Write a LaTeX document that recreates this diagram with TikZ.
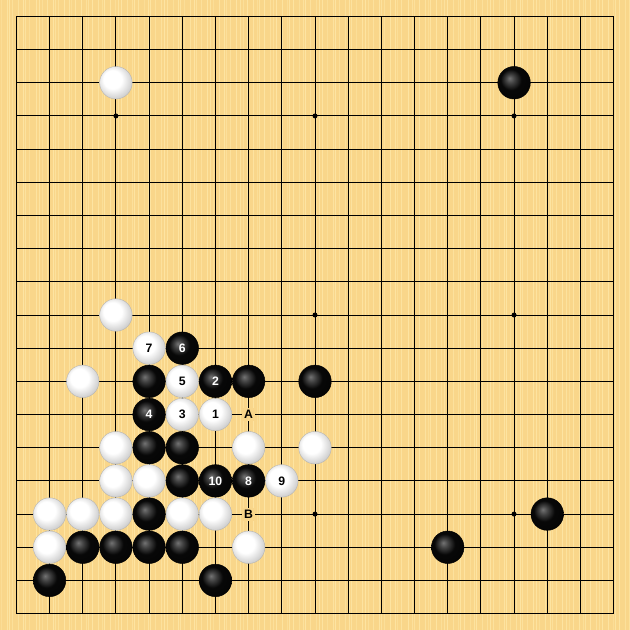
\documentclass[tikz,border=0pt]{standalone}
\usepackage{fontspec}
\setmainfont{Liberation Sans}
\definecolor{boardwood}{RGB}{249,214,138}
\definecolor{woodstripe}{RGB}{254,232,168}
\pgfdeclareradialshading{blackball}{\pgfpoint{-7bp}{7bp}}{color(0bp)=(black!55); color(7bp)=(black!75); color(16bp)=(black!97); color(50bp)=(black)}
\pgfdeclareradialshading{whiteball}{\pgfpoint{-7bp}{7bp}}{color(0bp)=(white); color(14bp)=(white); color(30bp)=(black!22); color(38bp)=(black!35); color(50bp)=(black!35)}

\begin{document}
\begin{tikzpicture}[x=1cm,y=-1cm]
\tikzstyle{every node}+=[inner sep=0pt]
\tikzstyle{stonebase}=[circle, minimum size=0.98cm, font=\bfseries\fontsize{10.5}{12}\selectfont]
\tikzstyle{blackstone}=[stonebase, shading=blackball, draw=black, line width=0.4pt, text=white]
\tikzstyle{whitestone}=[stonebase, shading=whiteball, draw=black!30, line width=0.3pt, text=black]
\tikzstyle{pointlabel}=[fill=boardwood, inner sep=2pt, font=\bfseries\fontsize{10.5}{12}\selectfont]
% board
\fill [boardwood] (-0.494,-0.494) rectangle (18.494,18.494);
\useasboundingbox (-0.494,-0.494) rectangle (18.494,18.494);
\foreach \k in {0,...,150} {
  \pgfmathsetmacro{\sx}{-0.45+0.126*\k+0.04*sin(97*\k)}
  \pgfmathtruncatemacro{\so}{40+40*abs(sin(53*\k))}
  \draw [woodstripe!\so!boardwood, line width=0.7pt] (\sx,-0.494) -- (\sx,18.494);
}
\foreach \i in {0,...,18} {
  \draw [black, line width=0.85pt] (\i,0) -- (\i,18);
  \draw [black, line width=0.85pt] (0,\i) -- (18,\i);
}
\foreach \c in {3,9,15}
  \foreach \r in {3,9,15}
    \fill [black] (\c,\r) circle (0.075);
% stones
\foreach \c/\r/\n in {15/2/, 5/10/6, 4/11/, 6/11/2, 7/11/, 9/11/, 4/12/4, 4/13/, 5/13/,
  5/14/, 6/14/10, 7/14/8, 4/15/, 16/15/, 2/16/, 3/16/, 4/16/, 5/16/, 13/16/, 1/17/, 6/17/}
  \node [blackstone] (b\c-\r) at (\c,\r) {\n};
\foreach \c/\r/\n in {3/2/, 3/9/, 4/10/7, 2/11/, 5/11/5, 5/12/3, 6/12/1, 3/13/, 7/13/, 9/13/,
  3/14/, 4/14/, 8/14/9, 1/15/, 2/15/, 3/15/, 5/15/, 6/15/, 1/16/, 7/16/}
  \node [whitestone] (w\c-\r) at (\c,\r) {\n};
% marked points
\node [pointlabel] (pA) at (7,12) {A};
\node [pointlabel] (pB) at (7,15) {B};
\end{tikzpicture}
\end{document}
